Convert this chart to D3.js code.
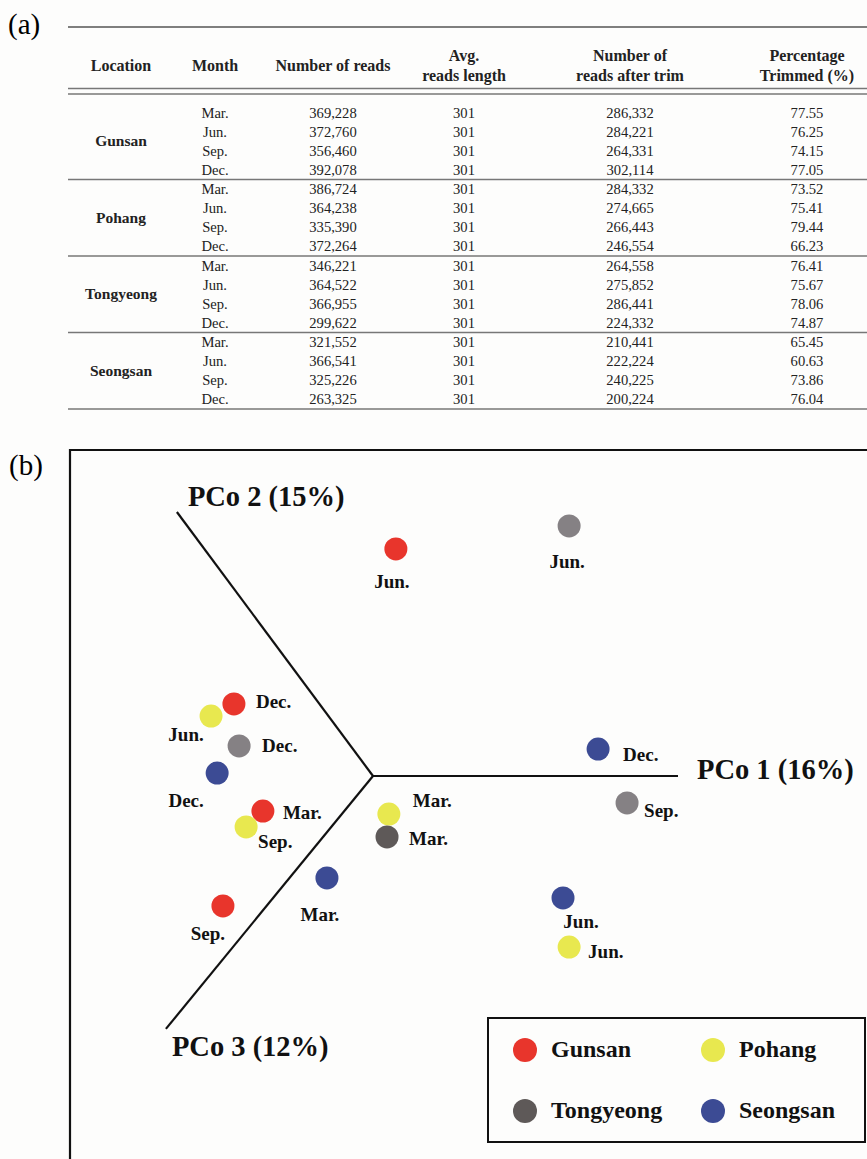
<!DOCTYPE html>
<html>
<head>
<meta charset="utf-8">
<script src="https://cdn.jsdelivr.net/npm/d3@7"></script>
<style>
  body { margin: 0; background: #fdfdfc; }
  svg { display: block; font-family: "Liberation Serif", "Times New Roman", serif; }
</style>
</head>
<body>
<div id="chart"></div>
<script>
// table data (a)
var locations = ["Gunsan", "Pohang", "Tongyeong", "Seongsan"];
var months = ["Mar.", "Jun.", "Sep.", "Dec."];
var numReads = [369228, 372760, 356460, 392078, 386724, 364238, 335390, 372264,
                346221, 364522, 366955, 299622, 321552, 366541, 325226, 263325];
var avgLength = [301, 301, 301, 301, 301, 301, 301, 301,
                 301, 301, 301, 301, 301, 301, 301, 301];
var readsAfterTrim = [286332, 284221, 264331, 302114, 284332, 274665, 266443, 246554,
                      264558, 275852, 286441, 224332, 210441, 222224, 240225, 200224];
var pctTrimmed = [77.55, 76.25, 74.15, 77.05, 73.52, 75.41, 79.44, 66.23,
                  76.41, 75.67, 78.06, 74.87, 65.45, 60.63, 73.86, 76.04];

// PCoA plot data (b) - projected coordinates
var pcoLocation = ["Gunsan", "Gunsan", "Gunsan", "Gunsan",
                   "Pohang", "Pohang", "Pohang", "Pohang",
                   "Tongyeong", "Tongyeong", "Tongyeong", "Tongyeong",
                   "Seongsan", "Seongsan", "Seongsan", "Seongsan"];
var pcoLabel = ["Jun.", "Dec.", "Mar.", "Sep.",
                "Jun.", "Sep.", "Mar.", "Jun.",
                "Jun.", "Dec.", "Mar.", "Sep.",
                "Dec.", "Dec.", "Mar.", "Jun."];
var pcoX = [0.075, -0.456, -0.361, -0.492,
            -0.531, -0.416, 0.052, 0.643,
            0.643, -0.439, 0.046, 0.833,
            0.738, -0.511, -0.151, 0.623];
var pcoY = [0.860, 0.273, -0.133, -0.492,
            0.227, -0.193, -0.144, -0.648,
            0.947, 0.114, -0.231, -0.102,
            0.102, 0.011, -0.386, -0.462];
var axisNames = ["PCo 1 (16%)", "PCo 2 (15%)", "PCo 3 (12%)"];
var axisEndX = [1, -0.643, -0.679];
var axisEndY = [0, 1, -0.958];

// label placement around each point (layout only)
var labelDx = [-4, 22, 20, -15, -25, 12, 24, 19, -2, 23, 22, 17, 25, -31, -7, 18];
var labelDy = [39, 4, 8, 34, 25, 21, -7, 11, 42, 6, 8, 14, 12, 34, 43, 30];
var labelAnchor = ["middle", "start", "start", "middle", "middle", "start", "start", "start",
                   "middle", "start", "start", "start", "start", "middle", "middle", "middle"];

var colors = {
    "Gunsan": "#e8352c",
    "Pohang": "#e8e84f",
    "Tongyeong": "#5e5958",
    "Seongsan": "#3c4b94"
};

var svgWidth = 867;
var svgHeight = 1159;

var svg = d3.select("#chart")
    .append("svg")
    .attr("width", svgWidth)
    .attr("height", svgHeight);

// ---------- (a) table ----------
svg.append("text")
    .attr("x", 8)
    .attr("y", 34)
    .attr("font-size", 29)
    .text("(a)");

var tableLeft = 68;
var tableRight = 867;

var colX = d3.scaleOrdinal()
    .domain(["loc", "month", "reads", "avg", "trim", "pct"])
    .range([121, 215, 333, 464, 630, 807]);

var rowY = d3.scaleBand()
    .domain(d3.range(numReads.length))
    .range([103, 409]);

var table = svg.append("g");

// rules
table.append("line")
    .attr("x1", tableLeft).attr("x2", tableRight)
    .attr("y1", 27).attr("y2", 27)
    .attr("stroke", "#555").attr("stroke-width", 1.6);
[88.5, 94].forEach(function(y) {
    table.append("line")
        .attr("x1", tableLeft).attr("x2", tableRight)
        .attr("y1", y).attr("y2", y)
        .attr("stroke", "#777").attr("stroke-width", 1.4);
});
locations.forEach(function(loc, i) {
    var y = rowY(i * 4 + 3) + rowY.bandwidth();
    table.append("line")
        .attr("x1", tableLeft).attr("x2", tableRight)
        .attr("y1", y).attr("y2", y)
        .attr("stroke", "#777").attr("stroke-width", 1.4);
});

// headers
var headers = [
    {col: "loc", lines: ["Location"]},
    {col: "month", lines: ["Month"]},
    {col: "reads", lines: ["Number of reads"]},
    {col: "avg", lines: ["Avg.", "reads length"]},
    {col: "trim", lines: ["Number of", "reads after trim"]},
    {col: "pct", lines: ["Percentage", "Trimmed (%)"]}
];
headers.forEach(function(h) {
    var t = table.append("text")
        .attr("x", colX(h.col))
        .attr("text-anchor", "middle")
        .attr("font-weight", "bold")
        .attr("font-size", 16)
        .attr("fill", "#222");
    if (h.lines.length === 1) {
        t.attr("y", 71).text(h.lines[0]);
    } else {
        t.append("tspan").attr("x", colX(h.col)).attr("y", 61).text(h.lines[0]);
        t.append("tspan").attr("x", colX(h.col)).attr("y", 81).text(h.lines[1]);
    }
});

// body
var fmt = d3.format(",");
var rows = table.append("g")
    .selectAll("g")
    .data(numReads)
    .enter()
    .append("g")
    .attr("transform", (d, i) => `translate(0, ${rowY(i) + rowY.bandwidth() / 2 + 5})`)
    .attr("font-size", 14.6)
    .attr("fill", "#222")
    .attr("text-anchor", "middle");

rows.append("text").attr("x", colX("month")).text((d, i) => months[i % 4]);
rows.append("text").attr("x", colX("reads")).text(d => fmt(d));
rows.append("text").attr("x", colX("avg")).text((d, i) => avgLength[i]);
rows.append("text").attr("x", colX("trim")).text((d, i) => fmt(readsAfterTrim[i]));
rows.append("text").attr("x", colX("pct")).text((d, i) => pctTrimmed[i].toFixed(2));

locations.forEach(function(loc, i) {
    var yMid = (rowY(i * 4) + rowY(i * 4 + 3) + rowY.bandwidth()) / 2;
    table.append("text")
        .attr("x", colX("loc"))
        .attr("y", yMid + 5)
        .attr("text-anchor", "middle")
        .attr("font-weight", "bold")
        .attr("font-size", 15.5)
        .attr("fill", "#222")
        .text(loc);
});

// ---------- (b) PCoA ----------
svg.append("text")
    .attr("x", 9)
    .attr("y", 475)
    .attr("font-size", 29)
    .text("(b)");

// frame (runs off the right and bottom edge)
svg.append("path")
    .attr("d", `M70,${svgHeight + 5} L70,450 L${svgWidth + 5},450`)
    .attr("fill", "none")
    .attr("stroke", "#111")
    .attr("stroke-width", 2.2);

var xScale = d3.scaleLinear().domain([-1, 1]).range([68, 678]);
var yScale = d3.scaleLinear().domain([-1, 1]).range([1040, 512]);

var plot = svg.append("g");

// axes radiating from the origin
plot.selectAll("line.axis")
    .data(axisNames)
    .enter()
    .append("line")
    .attr("class", "axis")
    .attr("x1", xScale(0))
    .attr("y1", yScale(0))
    .attr("x2", (d, i) => xScale(axisEndX[i]))
    .attr("y2", (d, i) => yScale(axisEndY[i]))
    .attr("stroke", "#111")
    .attr("stroke-width", 2.2);

var axisLabelOffset = [[19, 3], [11, -6], [6, 27]];
plot.selectAll("text.axisname")
    .data(axisNames)
    .enter()
    .append("text")
    .attr("class", "axisname")
    .attr("x", (d, i) => xScale(axisEndX[i]) + axisLabelOffset[i][0])
    .attr("y", (d, i) => yScale(axisEndY[i]) + axisLabelOffset[i][1])
    .attr("font-size", 28.5)
    .attr("font-weight", "bold")
    .attr("fill", "#111")
    .text(d => d);

function pointColor(i) {
    // the figure draws Tongyeong Jun./Sep./Dec. in a lighter grey
    if (pcoLocation[i] === "Tongyeong" && pcoLabel[i] !== "Mar.") return "#858184";
    return colors[pcoLocation[i]];
}

plot.append("g").selectAll("circle")
    .data(pcoX)
    .enter()
    .append("circle")
    .attr("cx", d => xScale(d))
    .attr("cy", (d, i) => yScale(pcoY[i]))
    .attr("r", 11.5)
    .attr("fill", (d, i) => pointColor(i));

plot.append("g").selectAll("text")
    .data(pcoLabel)
    .enter()
    .append("text")
    .attr("x", (d, i) => xScale(pcoX[i]) + labelDx[i])
    .attr("y", (d, i) => yScale(pcoY[i]) + labelDy[i])
    .attr("text-anchor", (d, i) => labelAnchor[i])
    .attr("font-size", 19)
    .attr("font-weight", "bold")
    .attr("fill", "#111")
    .text(d => d);

// legend
var legend = svg.append("g").attr("transform", "translate(488, 1018)");
legend.append("rect")
    .attr("width", 377)
    .attr("height", 124)
    .attr("fill", "none")
    .attr("stroke", "#111")
    .attr("stroke-width", 2);

var legendX = d3.scaleOrdinal().domain(locations).range([37, 225, 37, 225]);
var legendY = d3.scaleOrdinal().domain(locations).range([32, 32, 93, 93]);

var items = legend.selectAll("g.item")
    .data(locations)
    .enter()
    .append("g")
    .attr("class", "item")
    .attr("transform", d => `translate(${legendX(d)}, ${legendY(d)})`);

items.append("circle")
    .attr("r", 12)
    .attr("fill", d => colors[d]);

items.append("text")
    .attr("x", 26)
    .attr("y", 7)
    .attr("font-size", 24)
    .attr("font-weight", "bold")
    .attr("fill", "#111")
    .text(d => d);
</script>
</body>
</html>
